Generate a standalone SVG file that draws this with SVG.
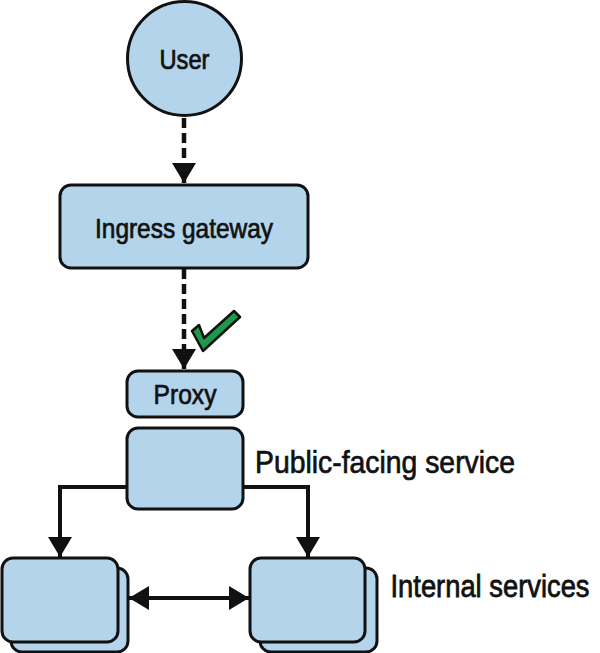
<svg xmlns="http://www.w3.org/2000/svg" width="600" height="653" viewBox="0 0 600 653">
<defs>
<style>
.n{fill:#b3d4ea;stroke:#111;stroke-width:3}
.t{font-family:"Liberation Sans Narrow","Liberation Sans",sans-serif;fill:#111;stroke:#111;stroke-width:0.7;font-size:28px}
.c{fill:none;stroke:#111;stroke-width:4}
.d{stroke-dasharray:10 5;stroke-width:4.5}
</style>
<marker id="ah" viewBox="0 0 20 24" refX="20" refY="12" markerWidth="20" markerHeight="24" markerUnits="userSpaceOnUse" orient="auto-start-reverse">
<path d="M0,0 L20,12 L0,24 Z" fill="#111"/>
</marker>
</defs>
<rect width="600" height="653" fill="#fff"/>
<g id="connectors">
<line class="c d" x1="184" y1="118" x2="184" y2="183" marker-end="url(#ah)"/>
<line class="c d" x1="184" y1="269" x2="184" y2="369" marker-end="url(#ah)"/>
<polyline class="c" points="127,487 60,487 60,557" marker-end="url(#ah)"/>
<polyline class="c" points="243,487 308,487 308,557" marker-end="url(#ah)"/>
<line class="c" x1="129" y1="598" x2="249" y2="598" marker-start="url(#ah)" marker-end="url(#ah)"/>
</g>
<g id="check">
<polygon points="192,331 199,325 204,338 234,311 240,317 203,351" fill="#1a9a4a" stroke="#111" stroke-width="2.5" stroke-linejoin="round"/>
</g>
<g id="user">
<circle class="n" cx="184.5" cy="58.5" r="57"/>
<text class="t" x="184.5" y="69" text-anchor="middle" textLength="50" lengthAdjust="spacingAndGlyphs" style="font-size:27px">User</text>
</g>
<g id="ingress">
<rect class="n" x="60" y="185" width="248" height="83" rx="11"/>
<text class="t" x="184" y="238" text-anchor="middle" textLength="178" lengthAdjust="spacingAndGlyphs" style="font-size:28px">Ingress gateway</text>
</g>
<g id="proxy">
<rect class="n" x="127" y="371" width="116" height="46" rx="11"/>
<text class="t" x="185" y="404" text-anchor="middle" textLength="63" lengthAdjust="spacingAndGlyphs" style="font-size:28px">Proxy</text>
</g>
<g id="public">
<rect class="n" x="127" y="428" width="116" height="81" rx="11"/>
<text class="t" x="255" y="473" textLength="260" lengthAdjust="spacingAndGlyphs" style="font-size:32px">Public-facing service</text>
</g>
<g id="internal-left">
<rect class="n" x="11" y="568" width="117" height="84" rx="11"/>
<rect class="n" x="2" y="558" width="116" height="84" rx="11"/>
</g>
<g id="internal-right">
<rect class="n" x="260" y="568" width="117" height="84" rx="11"/>
<rect class="n" x="250" y="558" width="115" height="84" rx="11"/>
</g>
<g id="internal-label" transform="translate(490,597) scale(1,1.1)">
<text class="t" x="0" y="0" text-anchor="middle" textLength="199" lengthAdjust="spacingAndGlyphs" style="font-size:28px">Internal services</text>
</g>
</svg>
